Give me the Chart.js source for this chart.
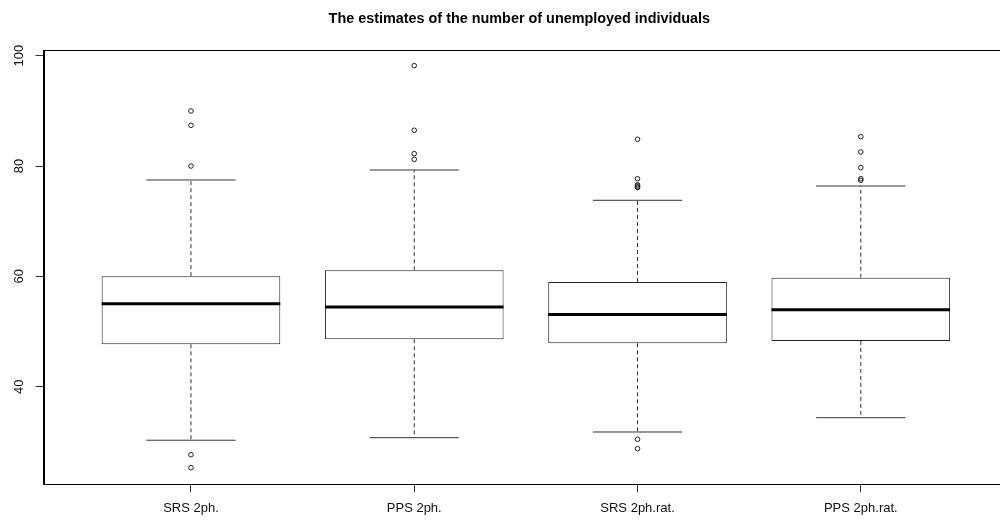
<!DOCTYPE html>
<html>
<head>
<meta charset="utf-8">
<script src="https://cdn.jsdelivr.net/npm/chart.js@4.4.1/dist/chart.umd.min.js"></script>
<style>
  body { margin: 0; background: #fff; }
  canvas { display: block; }
</style>
</head>
<body>
<canvas id="chart" width="1000" height="520"></canvas>
<script>
// boxplot statistics
var categories = ['SRS 2ph.', 'PPS 2ph.', 'SRS 2ph.rat.', 'PPS 2ph.rat.'];
var whiskerLow = [30.3, 30.76, 31.79, 34.38];
var q1 = [47.69, 48.6, 47.87, 48.29];
var median = [55.05, 54.45, 53.1, 53.96];
var q3 = [60.04, 61.1, 58.98, 59.76];
var whiskerHigh = [77.47, 79.28, 73.79, 76.38];
var outliers = [
    [89.98, 87.38, 80.0, 27.68, 25.32],
    [98.19, 86.48, 82.24, 81.22],
    [84.85, 77.7, 76.6, 76.4, 76.2, 76.1, 30.47, 28.77],
    [85.32, 82.55, 79.7, 77.7, 77.4]
];
var yTicks = [40, 60, 80, 100];

var font = '"Liberation Sans", Arial, sans-serif';

// build the datasets from the arrays above
var boxData = [], whiskerData = [], capData = [], medianData = [], outlierData = [];
categories.forEach(function (c, i) {
    var x = i + 1;
    boxData.push({ x: x, y: [q1[i], q3[i]] });
    whiskerData.push({ x: x, y: q3[i] }, { x: x, y: whiskerHigh[i] }, { x: x, y: null });
    whiskerData.push({ x: x, y: q1[i] }, { x: x, y: whiskerLow[i] }, { x: x, y: null });
    capData.push({ x: x - 0.2, y: whiskerHigh[i] }, { x: x + 0.2, y: whiskerHigh[i] }, { x: x, y: null });
    capData.push({ x: x - 0.2, y: whiskerLow[i] }, { x: x + 0.2, y: whiskerLow[i] }, { x: x, y: null });
    medianData.push({ x: x - 0.4, y: median[i] }, { x: x + 0.4, y: median[i] }, { x: x, y: null });
    outliers[i].forEach(function (v) { outlierData.push({ x: x, y: v }); });
});

// frame around the plot region, like R's box() (right side falls off the canvas)
var plotBox = {
    id: 'plotBox',
    afterDraw: function (chart) {
        var a = chart.chartArea, ctx = chart.ctx;
        ctx.save();
        ctx.strokeStyle = '#000';
        ctx.lineWidth = 1;
        ctx.strokeRect(Math.round(a.left) + 0.5, Math.round(a.top) + 0.5, a.right - a.left + 20, Math.round(a.bottom - a.top));
        ctx.restore();
    }
};

var lineDefaults = { type: 'line', pointRadius: 0, borderColor: '#000', borderWidth: 1, spanGaps: false, order: 1 };

new Chart(document.getElementById('chart').getContext('2d'), {
    type: 'bar',
    data: {
        datasets: [
            Object.assign({}, lineDefaults, { data: medianData, borderWidth: 3 }),
            Object.assign({}, lineDefaults, { data: capData, borderColor: '#333' }),
            Object.assign({}, lineDefaults, { data: whiskerData, borderColor: '#333', borderDash: [4, 3] }),
            {
                type: 'scatter', data: outlierData, order: 0,
                pointStyle: 'circle', pointRadius: 2.3, borderWidth: 1,
                borderColor: '#222', backgroundColor: 'rgba(0,0,0,0)'
            },
            {
                type: 'bar', data: boxData, order: 5,
                backgroundColor: '#fff', borderColor: '#222', borderWidth: 1,
                borderSkipped: false, categoryPercentage: 1, barPercentage: 0.8
            }
        ]
    },
    options: {
        responsive: false,
        animation: false,
        events: [],
        layout: { padding: 0 },
        plugins: {
            legend: { display: false },
            tooltip: { enabled: false },
            title: {
                display: true,
                fullSize: false,
                text: 'The estimates of the number of unemployed individuals',
                color: '#000',
                font: { family: font, size: 14.4, weight: 'bold', lineHeight: 1.2 },
                padding: { top: 10, bottom: 22.72 }
            }
        },
        scales: {
            x: {
                type: 'linear',
                offset: false,
                min: 0.34,
                max: 4.601,
                afterBuildTicks: function (scale) {
                    scale.ticks = categories.map(function (c, i) { return { value: i + 1 }; });
                },
                afterFit: function (scale) {
                    scale.height = 35.7;
                    scale.paddingLeft = 0;
                    scale.paddingRight = 0;
                },
                ticks: {
                    callback: function (v) { return categories[v - 1]; },
                    color: '#111',
                    font: { family: font, size: 13 },
                    padding: 8.5,
                    maxRotation: 0,
                    autoSkip: false
                },
                grid: { display: true, offset: false, drawOnChartArea: false, drawTicks: true, tickLength: 8, color: '#333' },
                border: { display: true, color: '#000' }
            },
            y: {
                min: 22.31,
                max: 101.03,
                afterBuildTicks: function (scale) {
                    scale.ticks = yTicks.map(function (v) { return { value: v }; });
                },
                afterFit: function (scale) { scale.width = 43.6; },
                ticks: {
                    color: '#111',
                    font: { family: font, size: 13 },
                    minRotation: 90,
                    maxRotation: 90,
                    crossAlign: 'center',
                    padding: 5.2,
                    autoSkip: false
                },
                grid: { display: true, drawOnChartArea: false, drawTicks: true, tickLength: 8, color: '#333' },
                border: { display: true, color: '#000' }
            }
        }
    },
    plugins: [plotBox]
});
</script>
</body>
</html>
